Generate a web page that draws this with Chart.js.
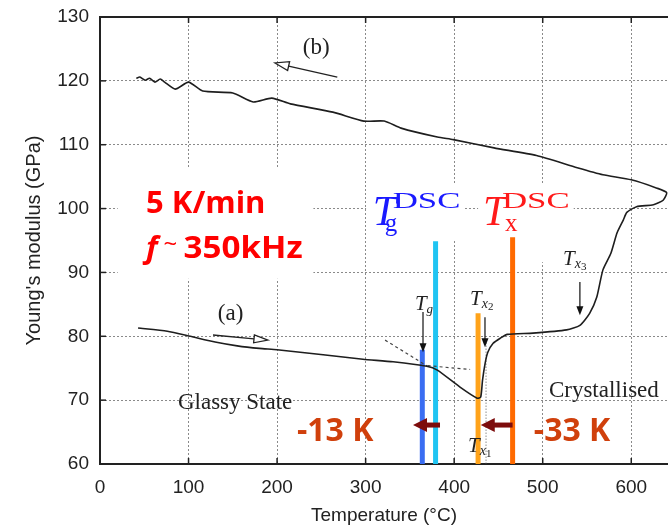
<!DOCTYPE html>
<html>
<head>
<meta charset="utf-8">
<script src="https://cdn.jsdelivr.net/npm/chart.js@4.4.0/dist/chart.umd.min.js"></script>
<style>
  body { margin: 0; background: #fff; }
</style>
</head>
<body>
<canvas id="modulusChart" width="668" height="527"></canvas>
<script>
// heating run (a): temperature (°C) -> Young's modulus (GPa)
const heatTemp = [43, 76, 102, 130, 155, 180, 200, 252, 297, 331, 369, 381, 407, 426, 430, 432, 435, 438, 444, 452, 460, 489, 527, 542, 553, 561, 568, 577, 584, 591, 595, 606, 625, 636, 640];
const heatMod  = [81.3, 80.8, 80.0, 79.1, 78.5, 78.1, 77.9, 77.1, 76.4, 76.0, 75.3, 74.7, 72.0, 70.3, 70.5, 73.1, 75.8, 77.5, 78.9, 79.7, 80.3, 80.5, 81.0, 81.7, 83.6, 86.1, 90.4, 93.0, 96.2, 98.2, 99.4, 100.3, 100.6, 101.3, 102.5];
// cooling run (b), from the top temperature back down
const coolTemp = [640, 629, 600, 568, 539, 493, 445, 399, 381, 340, 321, 298, 263, 215, 194, 173, 150, 116, 100, 85, 73, 68, 62, 56, 51, 45, 41];
const coolMod  = [102.5, 103.2, 104.5, 105.3, 106.4, 108.3, 109.5, 110.8, 111.2, 112.6, 113.7, 113.7, 115.1, 116.4, 117.3, 116.7, 118.1, 118.4, 119.8, 118.7, 119.8, 120.3, 119.8, 120.4, 120.1, 120.6, 120.4];

// tangent construction at Tg
const tangentSteepT = [322, 370];
const tangentSteepE = [79.4, 75.3];
const tangentGlassT = [370, 418];
const tangentGlassE = [75.4, 74.8];

// coloured markers: Tg onset, Tg DSC, Tx1 onset, Tx DSC
const markerTemp = [364, 379, 427, 466];
const markerTop  = [77.9, 94.9, 83.6, 95.5];
const markerColor = ['#3a6df2', '#1fc4f2', '#ffa31a', '#ff6a00'];

const xTicks = [0, 100, 200, 300, 400, 500, 600];
const yTicks = [60, 70, 80, 90, 100, 110, 120, 130];

const pts = (xs, ys) => xs.map((x, i) => ({ x: x, y: ys[i] }));
const loop = pts(heatTemp, heatMod).concat(pts(coolTemp, coolMod).slice(1));

const datasets = [
  { data: loop, borderColor: '#1e1e1e', borderWidth: 1.6, tension: 0.2 },
  { data: pts(tangentSteepT, tangentSteepE), borderColor: '#444', borderWidth: 1.2, borderDash: [3, 3] },
  { data: pts(tangentGlassT, tangentGlassE), borderColor: '#444', borderWidth: 1.2, borderDash: [3, 3] },
  { data: pts([436, 436], [79, 60]), borderColor: '#555', borderWidth: 1, borderDash: [1, 2] }
];
markerTemp.forEach((t, i) => {
  datasets.push({ data: pts([t, t], [60, markerTop[i]]), borderColor: markerColor[i], borderWidth: 5, borderCapStyle: 'butt' });
});

function arrow(ctx, x1, y1, x2, y2, head, width, color, open) {
  const a = Math.atan2(y2 - y1, x2 - x1);
  const bx = x2 - head * Math.cos(a), by = y2 - head * Math.sin(a);
  ctx.save();
  ctx.strokeStyle = color; ctx.fillStyle = color;
  ctx.lineWidth = open ? 1.3 : 1.2;
  ctx.beginPath(); ctx.moveTo(x1, y1); ctx.lineTo(open ? bx : x2 - head * 0.5 * Math.cos(a), open ? by : y2 - head * 0.5 * Math.sin(a)); ctx.stroke();
  ctx.beginPath();
  ctx.moveTo(x2, y2);
  ctx.lineTo(bx + width * Math.sin(a), by - width * Math.cos(a));
  ctx.lineTo(bx - width * Math.sin(a), by + width * Math.cos(a));
  ctx.closePath();
  if (open) ctx.stroke(); else ctx.fill();
  ctx.restore();
}

// draws text pieces one after another; sx stretches a piece horizontally
function runs(ctx, x, y, parts, color) {
  ctx.fillStyle = color;
  ctx.textBaseline = 'alphabetic';
  parts.forEach(p => {
    ctx.font = p.font;
    const sx = p.sx || 1;
    ctx.save();
    ctx.translate(x + (p.dx || 0), y + (p.dy || 0));
    ctx.scale(sx, 1);
    ctx.fillText(p.t, 0, 0);
    ctx.restore();
    if (!p.fixed) x += ctx.measureText(p.t).width * sx + (p.gap || 0);
  });
}

const annotate = {
  id: 'annotate',
  beforeDatasetsDraw(chart) {
    const { ctx, scales: { x, y } } = chart;
    ctx.save();
    ctx.fillStyle = '#fff';
    [[20, 241, 106.5, 89], [300.5, 412, 103.7, 95.1], [427, 535, 103.7, 91.6]].forEach(b => {
      const x1 = x.getPixelForValue(b[0]), x2 = x.getPixelForValue(b[1]);
      const y1 = y.getPixelForValue(b[2]), y2 = y.getPixelForValue(b[3]);
      ctx.fillRect(x1, y1, x2 - x1, y2 - y1);
    });
    ctx.restore();
  },
  afterDraw(chart) {
    const { ctx, chartArea: ca, scales: { x, y } } = chart;
    const X = v => x.getPixelForValue(v), Y = v => y.getPixelForValue(v);
    ctx.save();
    // top frame and inward ticks
    ctx.strokeStyle = '#222';
    ctx.lineWidth = 2;
    ctx.beginPath(); ctx.moveTo(ca.left, ca.top); ctx.lineTo(ca.right, ca.top); ctx.stroke();
    ctx.lineWidth = 1.5;
    xTicks.forEach(v => {
      ctx.beginPath();
      ctx.moveTo(X(v), ca.bottom); ctx.lineTo(X(v), ca.bottom - 6);
      ctx.moveTo(X(v), ca.top); ctx.lineTo(X(v), ca.top + 6);
      ctx.stroke();
    });
    yTicks.forEach(v => {
      ctx.beginPath(); ctx.moveTo(ca.left, Y(v)); ctx.lineTo(ca.left + 6, Y(v)); ctx.stroke();
    });

    // heating / cooling direction arrows
    arrow(ctx, X(268), Y(120.6), X(197.6), Y(122.8), 14, 4.5, '#222', true);
    arrow(ctx, X(127.6), Y(80.2), X(189.7), Y(79.4), 14, 4, '#222', true);
    // transition arrows
    arrow(ctx, X(364.8), Y(83.8), X(364.8), Y(77.5), 9, 3.5, '#111', false);
    arrow(ctx, X(434.8), Y(83.0), X(434.8), Y(78.3), 9, 3.5, '#111', false);
    arrow(ctx, X(542), Y(88.5), X(542), Y(83.3), 9, 3.5, '#111', false);
    // shift arrows
    ctx.save();
    ctx.fillStyle = '#7d0c0c';
    [[384, 353.5], [466, 430]].forEach(a => {
      const yy = Y(66.1), x1 = X(a[0]), x2 = X(a[1]);
      ctx.fillRect(x2 + 12, yy - 2.5, x1 - x2 - 12, 5);
      ctx.beginPath(); ctx.moveTo(x2, yy); ctx.lineTo(x2 + 14, yy - 7); ctx.lineTo(x2 + 14, yy + 7); ctx.closePath(); ctx.fill();
    });
    ctx.restore();

    const serif = '"Liberation Serif", serif';
    const sans = '"Open Sans", sans-serif';
    // red measurement conditions
    runs(ctx, X(52), Y(99.3), [{ t: '5 K/min', font: 'bold 31px ' + sans }], '#ff0000');
    runs(ctx, X(52), Y(92.3), [
      { t: 'f', font: 'italic bold 31px ' + sans, gap: 6 },
      { t: '~ ', font: '24px ' + sans, dy: -6 },
      { t: '350kHz', font: 'bold 31px ' + sans, sx: 1.07 }
    ], '#ff0000');
    // DSC temperatures
    runs(ctx, X(308), Y(97.4), [
      { t: 'T', font: 'italic 42px ' + serif, fixed: true },
      { t: 'g', font: '25px ' + serif, dx: 12, dy: 6, fixed: true },
      { t: 'DSC', font: '24px ' + serif, dx: 20, dy: -17, sx: 1.45, fixed: true }
    ], '#1a1aff');
    runs(ctx, X(432.5), Y(97.4), [
      { t: 'T', font: 'italic 42px ' + serif, fixed: true },
      { t: 'x', font: '25px ' + serif, dx: 22, dy: 6, fixed: true },
      { t: 'DSC', font: '24px ' + serif, dx: 19, dy: -17, sx: 1.45, fixed: true }
    ], '#ff1a1a');
    // shifts
    runs(ctx, X(222.5), Y(63.6), [{ t: '-13 K', font: 'bold 32px ' + sans }], '#d0400c');
    runs(ctx, X(490), Y(63.6), [{ t: '-33 K', font: 'bold 32px ' + sans }], '#d0400c');
    // original figure labels
    runs(ctx, X(229), Y(124.2), [{ t: '(b)', font: '23px ' + serif }], '#222');
    runs(ctx, X(133), Y(82.55), [{ t: '(a)', font: '23px ' + serif }], '#222');
    runs(ctx, X(88), Y(68.6), [{ t: 'Glassy State', font: '23px ' + serif }], '#222');
    runs(ctx, X(507), Y(70.5), [{ t: 'Crystallised', font: '23px ' + serif }], '#222');
    runs(ctx, X(355.7), Y(84.1), [
      { t: 'T', font: 'italic 21px ' + serif },
      { t: 'g', font: 'italic 13px ' + serif, dy: 3 }
    ], '#222');
    [[418, 84.9, '2'], [415.6, 61.9, '1'], [523, 91.2, '3']].forEach(l => {
      runs(ctx, X(l[0]), Y(l[1]), [
        { t: 'T', font: 'italic 21px ' + serif },
        { t: 'x', font: 'italic 14px ' + serif, dy: 3 },
        { t: l[2], font: '11px ' + serif, dy: 5 }
      ], '#222');
    });
    ctx.restore();
  }
};

const tickFont = { family: '"Liberation Sans", Arial, sans-serif', size: 19 };

new Chart('modulusChart', {
  type: 'scatter',
  data: { datasets: datasets.map(d => Object.assign({ showLine: true, pointRadius: 0, fill: false }, d)) },
  options: {
    responsive: false,
    animation: false,
    devicePixelRatio: 1,
    layout: { padding: { top: 17, right: 0, left: 0, bottom: 0 } },
    plugins: { legend: { display: false }, tooltip: { enabled: false } },
    scales: {
      x: {
        type: 'linear', min: 0, max: 641.5,
        afterBuildTicks: s => { s.ticks = xTicks.map(v => ({ value: v })); },
        afterFit: s => { s.height = 63; s.paddingLeft = 0; s.paddingRight = 0; },
        ticks: { font: tickFont, color: '#222', padding: 12 },
        grid: { color: '#8a8a8a', lineWidth: 1, drawTicks: false },
        border: { display: true, color: '#222', width: 2, dash: [2, 2] },
        title: { display: true, text: 'Temperature (°C)', font: tickFont, color: '#222', padding: { top: 0, bottom: 0 } }
      },
      y: {
        min: 60, max: 130,
        afterBuildTicks: s => { s.ticks = yTicks.map(v => ({ value: v })); },
        afterFit: s => { s.width = 100; s.paddingTop = 0; s.paddingBottom = 0; },
        ticks: { font: tickFont, color: '#222', padding: 11 },
        grid: { color: '#8a8a8a', lineWidth: 1, drawTicks: false },
        border: { display: true, color: '#222', width: 2, dash: [2, 2] },
        title: { display: true, text: "Young's modulus (GPa)", font: { family: tickFont.family, size: 20 }, color: '#222', padding: { top: 22, bottom: 0 } }
      }
    }
  },
  plugins: [annotate]
});
</script>
</body>
</html>
